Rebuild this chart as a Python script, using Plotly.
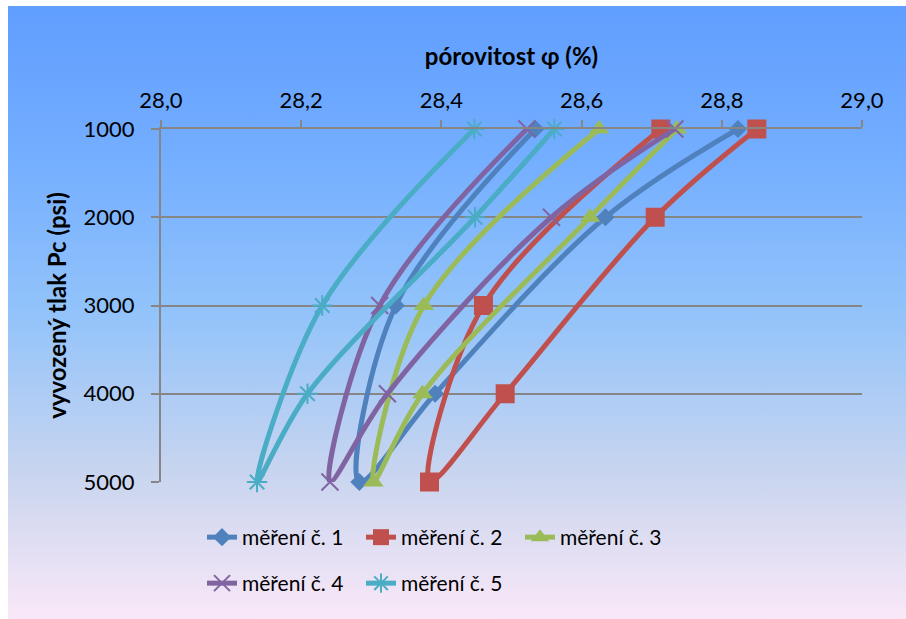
import base64
import plotly.graph_objects as go

# Pressure steps of one loading/unloading cycle (psi)
pressure = [1000, 2000, 4000, 5000, 3000, 1000]

# Porosity (%) measured at each step, one list per measurement
m1 = [28.823, 28.634, 28.391, 28.283, 28.335, 28.534]
m2 = [28.850, 28.705, 28.491, 28.383, 28.460, 28.713]
m3 = [28.736, 28.612, 28.373, 28.303, 28.375, 28.625]
m4 = [28.733, 28.557, 28.323, 28.241, 28.312, 28.522]
m5 = [28.561, 28.448, 28.209, 28.137, 28.230, 28.447]

series_names = ["měření č. 1", "měření č. 2", "měření č. 3", "měření č. 4", "měření č. 5"]
series_values = [m1, m2, m3, m4, m5]
colors = ["#4F81BD", "#C0504D", "#9BBB59", "#8064A2", "#4BACC6"]
symbols = ["diamond", "square", "triangle-up", "x-thin-open", "asterisk-open"]
sizes = [14, 19, 18, 17, 17]

W, H = 906, 619
L, R, T, B = 161, 44, 129, 137
pw, ph = W - L - R, H - T - B


def px_to_paper_x(px):
    return (px - L) / pw


def px_to_paper_y(py):
    return (H - B - py) / ph


fig = go.Figure()

for name, vals, col, sym, sz in zip(series_names, series_values, colors, symbols, sizes):
    is_open = sym.endswith("open")
    fig.add_trace(go.Scatter(
        x=vals, y=pressure, name=name, mode="lines+markers",
        line=dict(color=col, width=5, shape="spline", smoothing=1.0),
        marker=dict(symbol=sym, size=sz, color=col,
                    line=dict(color=col, width=2 if is_open else 0)),
        cliponaxis=False,
        legend="legend" if name in series_names[:3] else "legend2",
    ))

# Vertical gradient background for the whole chart area
stops = [
    (0.00, (96, 158, 255)),
    (0.25, (116, 174, 255)),
    (0.50, (146, 195, 250)),
    (0.78, (204, 214, 239)),
    (1.00, (250, 232, 248)),
]
stop_xml = "".join(
    f'<stop offset="{o}" stop-color="rgb({c[0]},{c[1]},{c[2]})"/>' for o, c in stops
)
svg = (
    '<svg xmlns="http://www.w3.org/2000/svg" width="100" height="100" viewBox="0 0 100 100" '
    'preserveAspectRatio="none"><defs><linearGradient id="g" x1="0" y1="0" x2="0" y2="1">'
    + stop_xml +
    '</linearGradient></defs><rect x="0" y="0" width="100" height="100" fill="url(#g)"/></svg>'
)
src = "data:image/svg+xml;base64," + base64.b64encode(svg.encode()).decode()
bg_left, bg_top, bg_right, bg_bottom = 8, 6, 906, 619
fig.add_layout_image(dict(
    source=src, xref="paper", yref="paper",
    x=px_to_paper_x(bg_left), y=px_to_paper_y(bg_top),
    sizex=(bg_right - bg_left) / pw, sizey=(bg_bottom - bg_top) / ph,
    xanchor="left", yanchor="top", sizing="stretch", layer="below",
))

axis_grey = "#868686"
tick_font = dict(family="Lato", size=22, color="black")
title_font = dict(family="Lato", size=24, color="black", weight="bold")
legend_font = dict(family="Lato", size=21, color="black")

fig.update_layout(
    width=W, height=H,
    margin=dict(l=L, r=R, t=T, b=B, autoexpand=False),
    paper_bgcolor="white",
    plot_bgcolor="rgba(0,0,0,0)",
    separators=", ",
    xaxis=dict(
        side="top", range=[28.0, 29.0], dtick=0.2, tick0=28.0, tickformat=".1f",
        showgrid=False, zeroline=False,
        showline=True, linecolor=axis_grey, linewidth=2,
        ticks="outside", ticklen=7, tickwidth=2, tickcolor=axis_grey,
        tickfont=tick_font, ticklabelstandoff=3,
        title=dict(text="pórovitost φ (%)", font=title_font, standoff=14),
    ),
    yaxis=dict(
        range=[5000, 1000], dtick=1000, tick0=1000, tickformat="d",
        showgrid=True, gridcolor=axis_grey, gridwidth=2, zeroline=False,
        showline=True, linecolor=axis_grey, linewidth=2,
        ticks="outside", ticklen=8, tickwidth=2, tickcolor=axis_grey,
        tickfont=tick_font, ticklabelstandoff=12,
        title=dict(text="vyvozený tlak Pc (psi)", font=title_font, standoff=10),
    ),
    legend=dict(
        orientation="h", x=px_to_paper_x(202), y=px_to_paper_y(517),
        xanchor="left", yanchor="top", font=legend_font,
        bgcolor="rgba(0,0,0,0)", entrywidth=114, entrywidthmode="pixels",
        traceorder="normal",
    ),
    legend2=dict(
        orientation="h", x=px_to_paper_x(202), y=px_to_paper_y(563),
        xanchor="left", yanchor="top", font=legend_font,
        bgcolor="rgba(0,0,0,0)", entrywidth=114, entrywidthmode="pixels",
        traceorder="normal",
    ),
)

fig.write_html("out.html")
